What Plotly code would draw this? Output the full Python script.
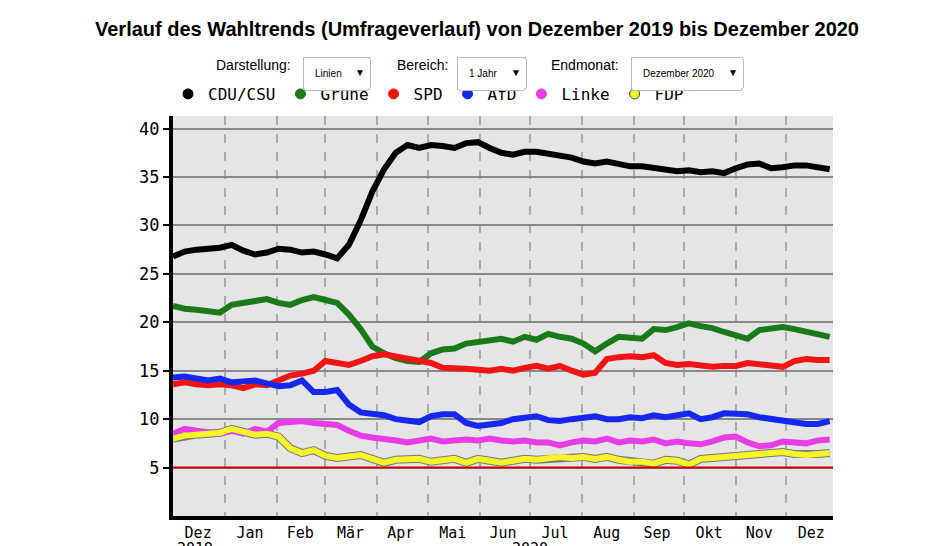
import pandas as pd
import plotly.graph_objects as go

dates = pd.date_range("2019-12-01", periods=57, freq="7D")

cdu = [26.8,27.3,27.5,27.6,27.7,28.0,27.4,27.0,27.2,27.6,27.5,27.2,27.3,27.0,26.6,28.0,30.5,33.5,35.8,37.5,38.3,38.0,38.3,38.2,38.0,38.5,38.6,38.0,37.5,37.3,37.6,37.6,37.4,37.3,37.0,36.6,36.4,36.6,36.3,36.1,36.1,35.9,35.7,35.6,35.7,35.5,35.6,35.4,35.9,36.3,36.4,35.9,36.0,36.2,36.2,36.0,35.8]
gruene = [21.7,21.4,21.3,21.2,21.0,21.8,22.0,22.3,22.4,22.0,21.8,22.3,22.6,22.3,22.0,20.8,19.3,17.5,16.8,16.3,16.0,15.9,16.8,17.2,17.3,17.8,18.0,18.2,18.3,18.0,18.5,18.2,18.8,18.5,18.3,17.8,17.0,17.8,18.5,18.4,18.3,19.3,19.2,19.5,19.9,19.6,19.4,19.0,18.6,18.3,19.2,19.3,19.5,19.3,19.0,18.8,18.5]
spd = [13.6,13.8,13.6,13.5,13.6,13.5,13.2,13.6,13.5,14.0,14.5,14.7,15.0,16.0,15.8,15.6,16.0,16.5,16.7,16.5,16.2,16.0,15.8,15.3,15.3,15.2,15.1,15.0,15.2,15.0,15.3,15.5,15.2,15.5,15.0,14.6,14.8,16.2,16.4,16.5,16.4,16.6,15.8,15.6,15.7,15.5,15.4,15.5,15.5,15.8,15.7,15.5,15.4,16.0,16.2,16.1,16.1]
afd = [14.3,14.4,14.2,14.0,14.2,13.8,13.9,14.0,13.7,13.4,13.5,14.0,12.8,12.8,13.0,11.5,10.7,10.5,10.4,10.0,9.8,9.7,10.3,10.5,10.5,9.6,9.3,9.4,9.6,10.0,10.2,10.3,9.9,9.8,10.0,10.2,10.3,10.0,10.0,10.2,10.1,10.4,10.2,10.4,10.6,10.0,10.2,10.6,10.6,10.5,10.2,10.0,9.8,9.6,9.5,9.5,9.8]
linke = [8.5,9.0,8.8,8.6,8.5,8.8,8.5,9.0,8.7,9.6,9.7,9.8,9.6,9.5,9.4,8.8,8.3,8.1,8.0,7.8,7.6,7.8,8.0,7.7,7.8,7.9,7.8,8.0,7.8,7.7,7.8,7.6,7.6,7.3,7.6,7.8,7.7,8.0,7.6,7.8,7.7,7.9,7.5,7.7,7.5,7.4,7.7,8.1,8.2,7.6,7.2,7.3,7.7,7.6,7.5,7.8,7.9]
fdp = [8.0,8.3,8.4,8.5,8.6,9.0,8.7,8.4,8.5,8.2,7.0,6.5,6.8,6.2,6.0,6.1,6.3,5.9,5.5,5.8,5.8,5.9,5.6,5.7,5.9,5.5,5.9,5.7,5.5,5.7,5.9,5.8,5.9,6.1,6.0,6.1,5.9,6.1,5.8,5.6,5.6,5.4,5.8,5.7,5.3,5.9,6.0,6.1,6.2,6.3,6.4,6.5,6.6,6.4,6.3,6.4,6.5]

parties = ["CDU/CSU", "Grüne", "SPD", "AfD", "Linke", "FDP"]
colors = ["#000000", "#1a7a1a", "#f01414", "#1428f0", "#e83ce8", "#f5f52a"]
series = [cdu, gruene, spd, afd, linke, fdp]

month_mid = pd.to_datetime(["2019-12-16", "2020-01-16", "2020-02-15", "2020-03-16", "2020-04-15",
                            "2020-05-16", "2020-06-15", "2020-07-16", "2020-08-16", "2020-09-15",
                            "2020-10-16", "2020-11-15", "2020-12-16"])
month_labels = ["Dez", "Jan", "Feb", "Mär", "Apr", "Mai", "Jun", "Jul", "Aug", "Sep", "Okt", "Nov", "Dez"]

mono = "DejaVu Sans Mono"
sans = "Liberation Sans, Arial"

# plot area in pixels: x 165..825, y 108..508
def px(x):
    return (x - 165) / 660

def py(y):
    return (508 - y) / 400

fig = go.Figure()

# dark outline under the yellow FDP line
fig.add_trace(go.Scatter(x=dates, y=fdp, mode="lines", line=dict(color="#777", width=8),
                         showlegend=False, hoverinfo="skip"))
for name, col, vals in zip(parties, colors, series):
    fig.add_trace(go.Scatter(x=dates, y=vals, mode="lines", name=name,
                             line=dict(color=col, width=6), showlegend=False))
for name, col in zip(parties, colors):
    fig.add_trace(go.Scatter(x=[None], y=[None], mode="markers", name=name,
                             marker=dict(color=col, size=10,
                                         line=dict(color="#444" if name == "FDP" else col, width=1))))

fig.add_hline(y=5, line=dict(color="#cc0000", width=2))

fig.update_layout(
    width=938, height=546,
    margin=dict(l=165, r=113, t=108, b=38),
    paper_bgcolor="white", plot_bgcolor="#e5e5e5",
    title=dict(text="<b>Verlauf des Wahltrends (Umfrageverlauf) von Dezember 2019 bis Dezember 2020</b>",
               x=0.5, xanchor="center", y=0.975, yanchor="top",
               font=dict(family=sans, size=20, color="black")),
    legend=dict(orientation="h", x=px(160), y=py(103), xanchor="left", yanchor="bottom",
                font=dict(family=mono, size=16, color="black"), tracegroupgap=0),
    showlegend=True,
    xaxis=dict(range=["2019-12-01", "2020-12-29"], tickmode="array", tickvals=month_mid,
               ticktext=month_labels, showgrid=False, ticks="",
               tickfont=dict(family=mono, size=15, color="black"),
               showline=True, linecolor="black", linewidth=4,
               minor=dict(tick0="2020-01-01", dtick="M1", showgrid=True, griddash="dash",
                          gridcolor="#aaaaaa", gridwidth=2)),
    yaxis=dict(range=[0, 41.3], tickvals=[5, 10, 15, 20, 25, 30, 35, 40], showgrid=True,
               gridcolor="#888888", gridwidth=1.5, zeroline=False,
               showline=True, linecolor="black", linewidth=4, ticks="outside",
               ticklen=6, tickcolor="black", tickwidth=2,
               tickfont=dict(family=mono, size=17, color="black")),
)

lab_font = dict(family=sans, size=14, color="black")
for txt, xpx in [("Darstellung:", 245), ("Bereich:", 414), ("Endmonat:", 577)]:
    fig.add_annotation(text=txt, x=px(xpx), y=py(57), xref="paper", yref="paper",
                       xanchor="center", yanchor="middle", showarrow=False, font=lab_font)
fig.add_annotation(text="2019", x="2019-12-14", y=py(530), xref="x", yref="paper", showarrow=False,
                   yanchor="top", font=dict(family=mono, size=15, color="black"))
fig.add_annotation(text="2020", x="2020-07-01", y=py(530), xref="x", yref="paper", showarrow=False,
                   yanchor="top", font=dict(family=mono, size=15, color="black"))

menus = []
for lab, xpx in [("Linien", 294), ("1 Jahr", 448), ("Dezember 2020", 622)]:
    menus.append(dict(type="dropdown", buttons=[dict(label=lab, method="skip", args=[])],
                      x=px(xpx), y=py(48), xanchor="left", yanchor="top", showactive=False,
                      bgcolor="white", bordercolor="#bbbbbb",
                      font=dict(family=sans, size=10, color="black"),
                      pad=dict(l=0, r=0, t=0, b=0)))
fig.update_layout(updatemenus=menus)

fig.write_html("out.html")
